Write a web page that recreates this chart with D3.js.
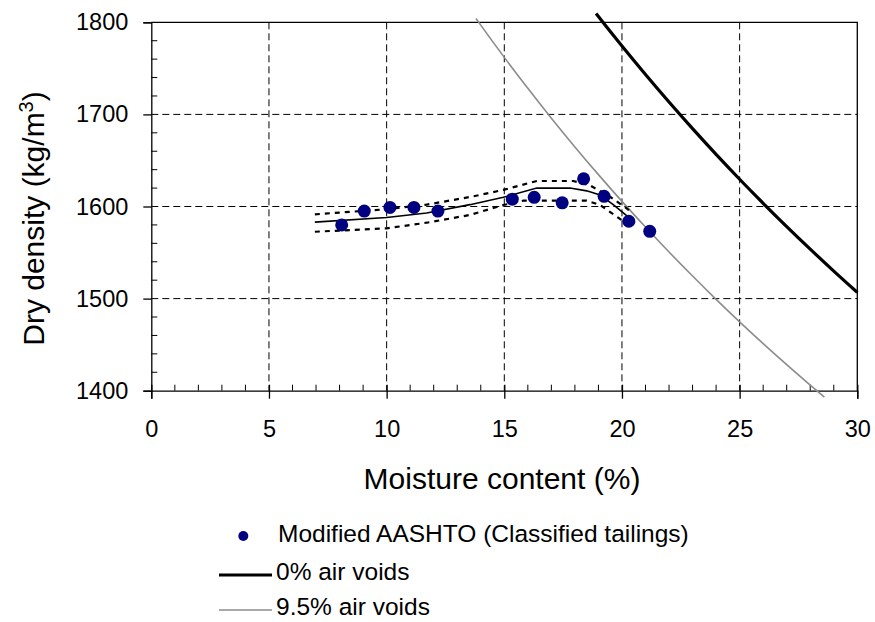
<!DOCTYPE html>
<html>
<head>
<meta charset="utf-8">
<script src="https://cdn.jsdelivr.net/npm/d3@7"></script>
<style>
    body { margin: 0; background: #fff; }
    svg { font-family: "Liberation Sans", Arial, sans-serif; }
</style>
</head>
<body>
<svg id="chart" width="875" height="622"></svg>
<script>
// measured points (moisture %, dry density kg/m3)
const testMoisture = [8.09, 9.05, 10.14, 11.16, 12.18, 15.34, 16.27, 17.46, 18.37, 19.24, 20.29, 21.18];
const testDensity  = [1580, 1595, 1599, 1599, 1595, 1608, 1610, 1604, 1630, 1611, 1584, 1573];

// fitted curve and its two dotted bounds
const fitMoisture = [6.95, 10.0, 11.7, 13.54, 14.96, 16.38, 17.79, 18.5, 19.07, 19.63, 20.34, 20.55];
const fitDensity  = [1583, 1588, 1593, 1602, 1610, 1620, 1620, 1617, 1612.5, 1602, 1587, 1582];
const upperMoisture = [6.95, 10.0, 11.7, 13.68, 14.96, 16.38, 17.93, 18.64, 19.49, 20.2, 20.34];
const upperDensity  = [1591.5, 1597, 1602, 1611, 1618, 1627.7, 1627.7, 1623, 1610.6, 1598, 1595];
const lowerMoisture = [6.95, 10.0, 11.7, 13.54, 14.96, 15.81, 18.5, 19.07, 19.78, 20.48];
const lowerDensity  = [1572.6, 1576.3, 1582.4, 1590.8, 1601.6, 1606.3, 1606.3, 1601.6, 1589, 1576.3];

// air voids lines
const zeroAvMoisture = [18.9, 19, 20, 21, 22, 23, 24, 25, 26, 27, 28, 29, 30];
const zeroAvDensity  = [1809.5, 1806.2, 1774.2, 1743.3, 1713.4, 1684.5, 1656.6, 1629.6, 1603.5, 1578.2, 1553.7, 1529.9, 1506.8];
const avMoisture = [13.8, 14, 15, 16, 17, 18, 19, 20, 21, 22, 23, 24, 25, 26, 27, 28, 28.6];
const avDensity  = [1804.1, 1796.9, 1761.9, 1728.3, 1695.9, 1664.7, 1634.6, 1605.6, 1577.7, 1550.6, 1524.5, 1499.2, 1474.8, 1451.2, 1428.3, 1406.1, 1393.1];

const xTicks = [0, 5, 10, 15, 20, 25, 30];
const yTicks = [1400, 1500, 1600, 1700, 1800];
const legendLabels = ['Modified AASHTO (Classified tailings)', '0% air voids', '9.5% air voids'];

const svg = d3.select('#chart');
const plot = {left: 151.3, right: 857.3, top: 22.3, bottom: 390.7};

let x = d3.scaleLinear().domain([0, 30]).range([plot.left, plot.right]);
let y = d3.scaleLinear().domain([1400, 1800]).range([plot.bottom, plot.top]);

const zip = (a, b) => a.map((v, i) => [v, b[i]]);
let line = d3.line().x(d => x(d[0])).y(d => y(d[1]));
let curve = d3.line().x(d => x(d[0])).y(d => y(d[1])).curve(d3.curveMonotoneX);

//网格线
let grid = svg.append('g').attr('class', 'grid')
    .attr('stroke', '#000').attr('stroke-width', 1).attr('stroke-dasharray', '7,4');
grid.selectAll('.gx').data(xTicks.slice(1, -1)).enter().append('line')
    .attr('x1', d => x(d)).attr('x2', d => x(d)).attr('y1', plot.top).attr('y2', plot.bottom);
grid.selectAll('.gy').data(yTicks.slice(1, -1)).enter().append('line')
    .attr('y1', d => y(d)).attr('y2', d => y(d)).attr('x1', plot.left).attr('x2', plot.right);

// frame: top and right
svg.append('path')
    .attr('d', `M${plot.left},${plot.top}H${plot.right}V${plot.bottom}`)
    .attr('fill', 'none').attr('stroke', '#000').attr('stroke-width', 1.3);

// minor ticks (inside)
let minor = svg.append('g').attr('stroke', '#000').attr('stroke-width', 1);
minor.selectAll('.mx').data(d3.range(1, 30).filter(v => v % 5 !== 0)).enter().append('line')
    .attr('x1', d => x(d)).attr('x2', d => x(d)).attr('y1', plot.bottom).attr('y2', plot.bottom - 6);
minor.selectAll('.my').data(d3.range(1420, 1800, 20).filter(v => v % 100 !== 0)).enter().append('line')
    .attr('y1', d => y(d)).attr('y2', d => y(d)).attr('x1', plot.left).attr('x2', plot.left + 6);

// axes
let xAxis = svg.append('g')
    .attr('transform', `translate(0,${plot.bottom})`)
    .call(d3.axisBottom(x).tickValues(xTicks).tickSize(8).tickPadding(22));
let yAxis = svg.append('g')
    .attr('transform', `translate(${plot.left},0)`)
    .call(d3.axisLeft(y).tickValues(yTicks).tickFormat(d3.format('d')).tickSize(8).tickPadding(15));
[xAxis, yAxis].forEach(a => {
    a.select('.domain').attr('stroke', '#000').attr('stroke-width', 1.3);
    a.selectAll('.tick line').attr('stroke', '#000').attr('stroke-width', 1.3);
    a.selectAll('.tick text').attr('font-size', 23.5).attr('fill', '#000')
        .attr('font-family', '"Liberation Sans", Arial, sans-serif');
});
xAxis.selectAll('.tick line').attr('y1', -6);

// air voids lines
svg.append('path').datum(zip(avMoisture, avDensity))
    .attr('d', curve).attr('fill', 'none').attr('stroke', '#8c8c8c').attr('stroke-width', 1.6);
svg.append('path').datum(zip(zeroAvMoisture, zeroAvDensity))
    .attr('d', curve).attr('fill', 'none').attr('stroke', '#000').attr('stroke-width', 3.2);

// fitted curve with bounds
svg.append('path').datum(zip(upperMoisture, upperDensity))
    .attr('d', line).attr('fill', 'none').attr('stroke', '#000').attr('stroke-width', 2.2)
    .attr('stroke-dasharray', '5,5');
svg.append('path').datum(zip(lowerMoisture, lowerDensity))
    .attr('d', line).attr('fill', 'none').attr('stroke', '#000').attr('stroke-width', 2.2)
    .attr('stroke-dasharray', '5,5');
svg.append('path').datum(zip(fitMoisture, fitDensity))
    .attr('d', line).attr('fill', 'none').attr('stroke', '#000').attr('stroke-width', 1.6);

// test points
svg.append('g').selectAll('circle')
    .data(zip(testMoisture, testDensity))
    .enter().append('circle')
    .attr('cx', d => x(d[0])).attr('cy', d => y(d[1])).attr('r', 6.5)
    .attr('fill', '#000080');

// axis titles
svg.append('text').attr('x', 502).attr('y', 489)
    .attr('text-anchor', 'middle').attr('font-size', 30).text('Moisture content (%)');
let yTitle = svg.append('text')
    .attr('transform', `translate(44,${(plot.top + plot.bottom) / 2 + 12}) rotate(-90)`)
    .attr('text-anchor', 'middle').attr('font-size', 30);
yTitle.append('tspan').text('Dry density (kg/m');
yTitle.append('tspan').attr('dy', -11).attr('font-size', 20).text('3');
yTitle.append('tspan').attr('dy', 11).text(')');

// legend
let legend = svg.append('g').attr('font-size', 24.5);
legend.append('circle').attr('cx', 243.3).attr('cy', 536).attr('r', 5).attr('fill', '#000080');
legend.append('line').attr('x1', 219).attr('x2', 272).attr('y1', 575).attr('y2', 575)
    .attr('stroke', '#000').attr('stroke-width', 3.2);
legend.append('line').attr('x1', 219).attr('x2', 272).attr('y1', 610).attr('y2', 610)
    .attr('stroke', '#8c8c8c').attr('stroke-width', 1.6);
legend.selectAll('text').data(legendLabels).enter().append('text')
    .attr('x', (d, i) => i === 0 ? 278 : 276)
    .attr('y', (d, i) => [542, 580, 615][i])
    .text(d => d);
</script>
</body>
</html>
